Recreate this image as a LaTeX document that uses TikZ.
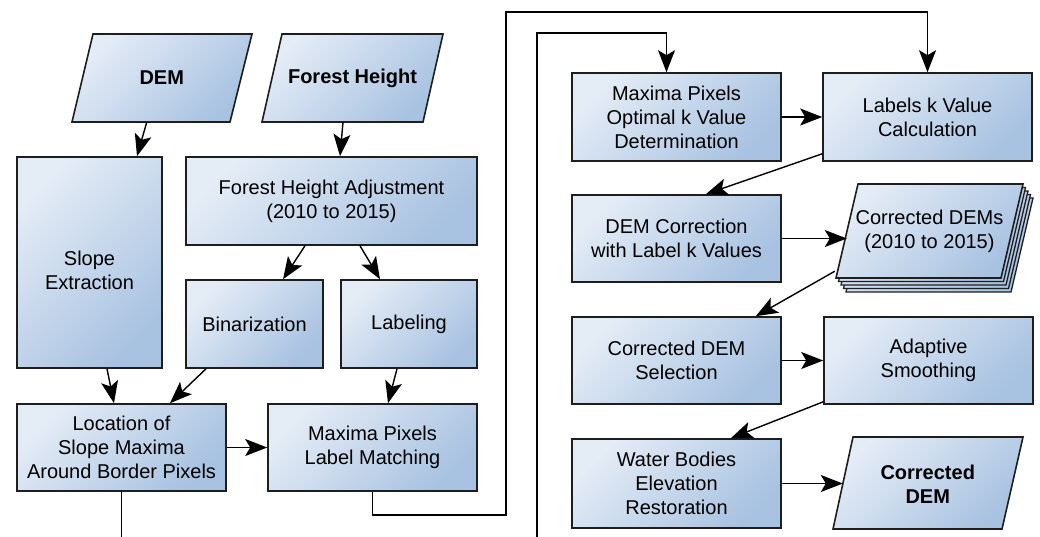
\documentclass[tikz,border=0pt]{standalone}
\usepackage{fontspec}
\setmainfont{Liberation Sans}
\usetikzlibrary{arrows.meta,calc}
\definecolor{boxlight}{RGB}{228,236,246}
\definecolor{boxdark}{RGB}{168,194,225}
\definecolor{edgecol}{RGB}{30,30,30}
\tikzset{
  fillgrad/.style={draw=edgecol, line width=1.6pt, line join=miter, top color=boxlight, bottom color=boxdark, shading angle=45},
  box/.style={fillgrad, rectangle, align=center, inner sep=2pt, font=\fontsize{20}{24}\selectfont},
  ptext/.style={rectangle, align=center, inner sep=0pt, font=\fontsize{20}{24}\selectfont},
  arr/.style={-{Stealth[length=22pt,width=17pt,inset=5pt]}, line width=1.4pt, draw=black},
}
\begin{document}
\begin{tikzpicture}[x=1pt,y=-1pt]
\clip (0,0) rectangle (1040,536);
\fill[white] (0,0) rectangle (1040,536);

% input parallelograms
\path[fillgrad] (93,34) -- (252,34) -- (230,122) -- (72,122) -- cycle;
\node[ptext, minimum width=158.5pt, minimum height=88pt, font=\fontsize{20}{24}\selectfont\bfseries] (dem) at (161.75,78) {DEM};
\path[fillgrad] (282,34) -- (443,34) -- (423,122) -- (262,122) -- cycle;
\node[ptext, minimum width=161pt, minimum height=88pt, font=\fontsize{20}{24}\selectfont\bfseries] (fh) at (352.5,78) {Forest Height};

% left column boxes
\node[box, minimum width=145pt, minimum height=211pt] (slope) at (89.5,262.5) {\rule{0pt}{30pt}Slope\\Extraction};
\node[box, minimum width=291pt, minimum height=88pt] (fha) at (331.5,201) {Forest Height Adjustment\\(2010 to 2015)};
\node[box, minimum width=137pt, minimum height=88pt] (bin) at (254.5,324) {Binarization};
\node[box, minimum width=136pt, minimum height=88pt] (lab) at (409,324) {Labeling};
\node[box, minimum width=209pt, minimum height=87pt] (loc) at (121.5,447.5) {Location of\\Slope Maxima\\Around Border Pixels};
\node[box, minimum width=209pt, minimum height=87pt] (mplm) at (372.5,447.5) {Maxima Pixels\\Label Matching};

% right column boxes
\node[box, minimum width=209pt, minimum height=88pt] (mpo) at (676.5,117) {Maxima Pixels\\Optimal k Value\\Determination};
\node[box, minimum width=209pt, minimum height=88pt] (lkv) at (927.5,117) {Labels k Value\\Calculation};
\node[box, minimum width=209pt, minimum height=87pt] (demc) at (676.5,238.5) {DEM Correction\\with Label k Values};
\node[box, minimum width=209pt, minimum height=87pt] (cds) at (676.5,360.5) {Corrected DEM\\Selection};
\node[box, minimum width=209pt, minimum height=87pt] (as) at (928.5,360.5) {Adaptive\\Smoothing};
\node[box, minimum width=209pt, minimum height=89pt] (wb) at (676.5,483.5) {Water Bodies\\Elevation\\Restoration};

% stacked multi-document parallelogram
\foreach \k in {4,3,2,1}{
  \path[fillgrad, line width=1.3pt, shift={(2.5*\k,3.5*\k)}] (858,184) -- (1023,184) -- (1001,278) -- (836,278) -- cycle;
}
\path[fillgrad] (858,184) -- (1023,184) -- (1001,278) -- (836,278) -- cycle;
\node[ptext, minimum width=165pt, minimum height=94pt] (cdems) at (929.5,231) {Corrected DEMs\\(2010 to 2015)};

% output parallelogram
\path[fillgrad] (853,437) -- (1023,437) -- (1002,529) -- (833,529) -- cycle;
\node[ptext, minimum width=169.5pt, minimum height=92pt, font=\fontsize{20}{24}\selectfont\bfseries] (cdem) at (927.75,484) {Corrected\\DEM};

% arrows
\draw[arr] ([xshift=-15pt]dem.south) -- ([xshift=47.5pt]slope.north);
\draw[arr] ([xshift=-9.5pt]fh.south) -- ([xshift=8.5pt]fha.north);
\draw[arr] ([xshift=-26.5pt]fha.south) -- ([xshift=28.5pt]bin.north);
\draw[arr] ([xshift=28.5pt]fha.south) -- ([xshift=-29pt]lab.north);
\draw[arr] ([xshift=17.5pt]slope.south) -- ([xshift=-7.5pt]loc.north);
\draw[arr] ([xshift=-48.5pt]bin.south) -- ([xshift=48.5pt]loc.north);
\draw[arr] ([xshift=-12pt]lab.south) -- ([xshift=15.5pt]mplm.north);
\draw[arr] (loc.east) -- (mplm.west);
\draw[arr] (mpo.east) -- (lkv.west);
\draw[arr] ([yshift=8pt]lkv.south west) -- ([xshift=-76pt]demc.north east);
\draw[arr] (demc.east) -- (demc.east -| cdems.west);
\draw[arr] ([xshift=-12pt,yshift=7pt]cdems.south west) -- ([xshift=-26pt]cds.north east);
\draw[arr] (cds.east) -- (as.west);
\draw[arr] ([yshift=3pt]as.south west) -- ([xshift=-51pt]wb.north east);
\draw[arr] (wb.east) -- (wb.east -| cdem.west);

% loop connectors
\draw[arr] (loc.south) |- (537,560) -- (537,33) -| ([xshift=-10pt]mpo.north);
\draw[arr] (mplm.south) |- (506,515) -- (506,12) -| (lkv.north);
\end{tikzpicture}
\end{document}
